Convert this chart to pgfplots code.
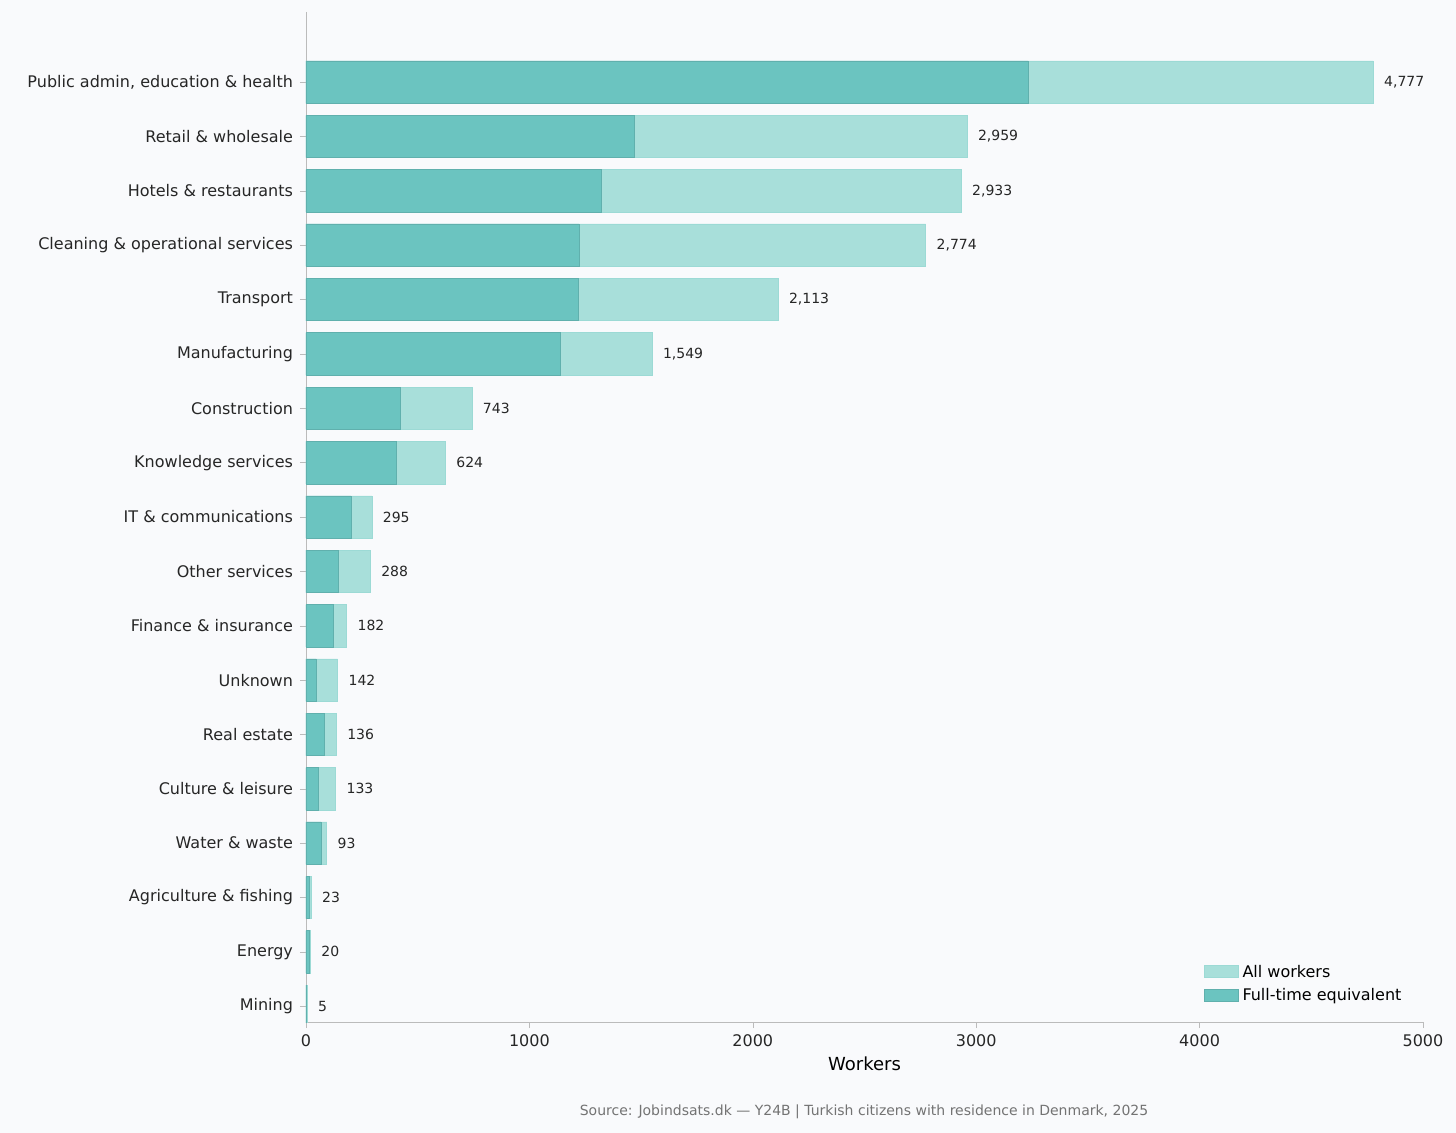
\documentclass[border=0pt]{standalone}
\usepackage{pgfplots}
\pgfplotsset{compat=1.18}
\usepackage{fontspec}
\setmainfont{DejaVu Sans}
\definecolor{bg}{HTML}{F9FAFC}
\definecolor{dark}{HTML}{6BC4C0}
\definecolor{light}{HTML}{A8DFDA}
\definecolor{axgray}{HTML}{BBBBBB}
\begin{document}
\begin{tikzpicture}
\fill[bg] (-153pt,-55.5pt) rectangle (575pt,511pt);
\path[use as bounding box] (-153pt,-55.5pt) rectangle (575pt,511pt);
\begin{axis}[at={(0,0)},anchor=south west,scale only axis,
 width=558.5pt,height=505pt,
 xmin=0,xmax=5000,ymin=-1.29,ymax=17.29,y dir=reverse,
 xbar,bar shift=0pt,bar width=0.78,
 axis x line*=bottom,axis y line*=left,
 axis line style={axgray},
 tick style={axgray},
 tick align=outside,major tick length=3pt,
 xtick={0,1000,2000,3000,4000,5000},
 ytick={0,...,17},
 yticklabels={Public admin{,} education \& health,Retail \& wholesale,Hotels \& restaurants,Cleaning \& operational services,Transport,Manufacturing,Construction,Knowledge services,IT \& communications,Other services,Finance \& insurance,Unknown,Real estate,Culture \& leisure,Water \& waste,Agriculture \& fishing,Energy,Mining},
 ticklabel style={font=\fontsize{8}{9}\selectfont,text=black!85},
 /pgf/number format/assume math mode=true,
 scaled x ticks=false,
 xticklabel style={/pgf/number format/1000 sep={}},
 xlabel={Workers},xlabel style={font=\fontsize{9}{10}\selectfont,yshift=2pt},
 legend style={at={(0.99,0.01)},anchor=south east,draw=none,fill=none,
   font=\fontsize{8}{9}\selectfont,cells={anchor=west}},
 legend image code/.code={\fill[#1] (0pt,-2.5pt) rectangle (17pt,3.5pt);},
 ]
\addplot[fill=light,draw=light!80!dark,line width=0.3pt,
 nodes near coords,every node near coord/.append style={font=\fontsize{7}{8}\selectfont,text=black!85,anchor=west,xshift=2pt},
 point meta=x,
 nodes near coords style={/pgf/number format/.cd,1000 sep={,},assume math mode=true}]
 coordinates {(4777,0)(2959,1)(2933,2)(2774,3)(2113,4)(1549,5)(743,6)(624,7)(295,8)(288,9)(182,10)(142,11)(136,12)(133,13)(93,14)(23,15)(20,16)(5,17)};
\addlegendentry{All workers}
\addplot[fill=dark,draw=dark!90!black,line width=0.3pt]
 coordinates {(3232,0)(1468,1)(1320,2)(1222,3)(1218,4)(1137,5)(421,6)(403,7)(201,8)(143,9)(121,10)(45,11)(81,12)(54,13)(67,14)(13,15)(13,16)(3,17)};
\addlegendentry{Full-time equivalent}
\end{axis}
\node[font=\fontsize{7}{8}\selectfont,text=black!55] at (279pt,-45pt) {Source: Jobindsats.dk — Y24B | Turkish citizens with residence in Denmark, 2025};
\end{tikzpicture}
\end{document}
